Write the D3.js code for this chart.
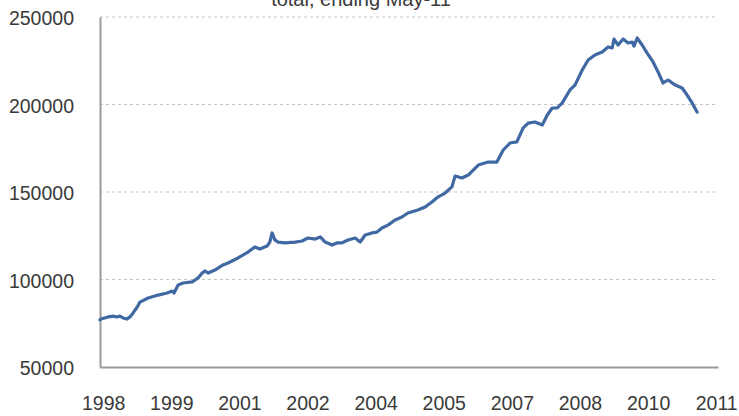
<!DOCTYPE html>
<html>
<head>
<meta charset="utf-8">
<script src="https://cdn.jsdelivr.net/npm/d3@7"></script>
<style>
  html, body { margin: 0; padding: 0; background: #fff; }
  svg { display: block; }
  text { font-family: "Liberation Sans", Arial, sans-serif; fill: #3a3a3a; }
</style>
</head>
<body>
<svg id="chart" width="739" height="416"></svg>
<script>
// ---- data ----
const titleText = "total, ending May-11";

// time as decimal years
const times = [
  1997.93, 1997.95, 1998.11, 1998.22, 1998.30, 1998.37, 1998.44, 1998.52, 1998.59, 1998.66,
  1998.75, 1998.81, 1998.99, 1999.21, 1999.41, 1999.52, 1999.56, 1999.65, 1999.76, 1999.96,
  2000.09, 2000.18, 2000.24, 2000.31, 2000.46, 2000.64, 2000.75, 2000.97, 2001.19, 2001.34,
  2001.45, 2001.61, 2001.67, 2001.72, 2001.78, 2001.85, 2002.00, 2002.23, 2002.38, 2002.51,
  2002.67, 2002.78, 2002.89, 2003.04, 2003.15, 2003.26, 2003.39, 2003.55, 2003.66, 2003.77,
  2003.92, 2004.03, 2004.14, 2004.27, 2004.43, 2004.58, 2004.71, 2004.93, 2005.09, 2005.24,
  2005.37, 2005.53, 2005.68, 2005.75, 2005.90, 2006.04, 2006.26, 2006.48, 2006.67, 2006.81,
  2006.96, 2007.11, 2007.25, 2007.36, 2007.51, 2007.67, 2007.78, 2007.89, 2008.00, 2008.11,
  2008.28, 2008.39, 2008.55, 2008.68, 2008.83, 2008.99, 2009.12, 2009.21, 2009.25, 2009.34,
  2009.45, 2009.56, 2009.65, 2009.69, 2009.76, 2009.87, 2009.98, 2010.11, 2010.22, 2010.33,
  2010.44, 2010.60, 2010.75, 2010.86, 2010.97, 2011.08
];
const values = [
  76900, 77400, 78600, 79100, 78600, 79100, 78000, 77400, 78600, 80900,
  84300, 87100, 89400, 91100, 92300, 93400, 92300, 96900, 98000, 98600,
  100900, 103700, 104900, 103700, 105400, 108300, 109400, 112300, 115700, 118600,
  117400, 119100, 121400, 126600, 122600, 121400, 120900, 121400, 122000, 123700,
  123100, 124300, 121400, 119700, 120900, 120900, 122600, 123700, 121400, 125400,
  126600, 127100, 129400, 131100, 134000, 135700, 138000, 139700, 141400, 144300,
  147100, 149400, 152900, 159100, 158000, 159700, 165400, 167100, 167100, 174000,
  178000, 178600, 186600, 189400, 190000, 188300, 194000, 198000, 198000, 200900,
  208300, 211100, 219700, 225400, 228300, 230000, 232900, 232300, 237400, 234000,
  237400, 235100, 235700, 233400, 238000, 234000, 229400, 224300, 218600, 212300,
  214000, 211100, 209400, 205400, 200900, 195700
];

const yTicks = [50000, 100000, 150000, 200000, 250000];
const gridTicks = [100000, 150000, 200000, 250000];
const xTickValues = [1998, 1999.5, 2001, 2002.5, 2004, 2005.5, 2007, 2008.5, 2010, 2011.5];
const xTickLabels = ["1998", "1999", "2001", "2002", "2004", "2005", "2007", "2008", "2010", "2011"];

// ---- layout ----
const svg = d3.select("#chart");
const plot = { left: 100, right: 718, top: 17, bottom: 367 };

const x = d3.scaleLinear().domain([1997.93, 2011.54]).range([plot.left, plot.right]);
const y = d3.scaleLinear().domain([50000, 250000]).range([plot.bottom, plot.top]);

// gridlines
svg.append("g")
  .selectAll("line")
  .data(gridTicks)
  .join("line")
  .attr("x1", plot.left).attr("x2", plot.right)
  .attr("y1", d => y(d)).attr("y2", d => y(d))
  .attr("stroke", "#c4c4c4")
  .attr("stroke-width", 1)
  .attr("stroke-dasharray", "3,3");

// y axis
const yAxis = d3.axisLeft(y).tickValues(yTicks).tickSize(0).tickPadding(26).tickFormat(d3.format("d"));
const gy = svg.append("g").attr("transform", `translate(${plot.left},0)`).call(yAxis);
gy.select(".domain").attr("stroke", "#9a9a9a").attr("stroke-width", 2);
gy.selectAll("text").style("font-size", "19.5px").attr("fill", "#333").attr("dy", "0.4em");

// x axis
const xAxis = d3.axisBottom(x).tickValues(xTickValues).tickSize(0).tickPadding(36)
  .tickFormat((d, i) => xTickLabels[i]);
const gx = svg.append("g").attr("transform", `translate(0,${plot.bottom})`).call(xAxis);
gx.select(".domain").attr("stroke", "#9a9a9a").attr("stroke-width", 2);
gx.selectAll("text").style("font-size", "19.5px").attr("fill", "#333").attr("dy", "0.35em");

// line
const pts = times.map((t, i) => [t, values[i]]);
svg.append("path")
  .datum(pts)
  .attr("fill", "none")
  .attr("stroke", "#4068a2")
  .attr("stroke-width", 3.2)
  .attr("stroke-linejoin", "round")
  .attr("stroke-linecap", "round")
  .attr("d", d3.line().x(d => x(d[0])).y(d => y(d[1])));

// title (partly cut at top, as in the reference)
svg.append("text")
  .attr("x", 361).attr("y", 6)
  .attr("text-anchor", "middle")
  .style("font-size", "20px")
  .text(titleText);
</script>
</body>
</html>
